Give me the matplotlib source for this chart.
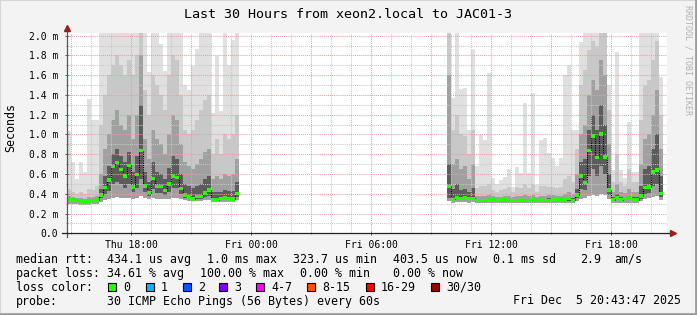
import matplotlib.pyplot as plt
import numpy as np
from matplotlib.patches import Rectangle

plt.rcParams['font.family'] = ['DejaVu Sans Mono']

# --- data (times in hours since Thu 00:00, values in ms) ---
title = "Last 30 Hours from xeon2.local to JAC01-3"
bin_hours = 0.2  # 12 minute steps
x_start, x_end = 14.8, 44.8

seg1_start = 14.8
seg1_median = [0.337, 0.337, 0.335, 0.325, 0.325, 0.328, 0.335, 0.337,
               0.388, 0.466, 0.540, 0.674, 0.715, 0.648, 0.580, 0.688,
               0.469, 0.597, 0.836, 0.479, 0.411, 0.557, 0.472, 0.475,
               0.431, 0.499, 0.580, 0.567, 0.451, 0.388, 0.367, 0.347,
               0.374, 0.370, 0.408, 0.438, 0.337, 0.340, 0.350, 0.357,
               0.347, 0.347, 0.405]
seg1_lo = [0.30, 0.30, 0.30, 0.29, 0.29, 0.29, 0.30, 0.30,
           0.32, 0.34, 0.35, 0.36, 0.37, 0.36, 0.36, 0.36,
           0.35, 0.36, 0.38, 0.36, 0.35, 0.36, 0.35, 0.35,
           0.35, 0.35, 0.36, 0.36, 0.35, 0.34, 0.33, 0.33,
           0.33, 0.33, 0.34, 0.34, 0.32, 0.32, 0.32, 0.32,
           0.32, 0.32, 0.34]
seg1_p25 = [0.32, 0.32, 0.32, 0.31, 0.31, 0.315, 0.32, 0.32,
            0.36, 0.40, 0.43, 0.50, 0.52, 0.50, 0.46, 0.50,
            0.42, 0.46, 0.55, 0.42, 0.38, 0.45, 0.41, 0.41,
            0.39, 0.42, 0.46, 0.46, 0.40, 0.36, 0.35, 0.335,
            0.35, 0.35, 0.37, 0.38, 0.325, 0.33, 0.335, 0.34,
            0.335, 0.335, 0.37]
seg1_p60 = [0.35, 0.35, 0.345, 0.34, 0.34, 0.345, 0.35, 0.35,
            0.45, 0.58, 0.68, 0.80, 0.85, 0.78, 0.72, 0.82,
            0.62, 0.78, 1.30, 0.62, 0.52, 0.72, 0.62, 0.60,
            0.55, 0.66, 0.78, 0.75, 0.60, 0.50, 0.48, 0.46,
            0.48, 0.50, 0.55, 0.58, 0.42, 0.42, 0.42, 0.44,
            0.43, 0.43, 0.52]
seg1_p75 = [0.38, 0.37, 0.36, 0.36, 0.35, 0.37, 0.37, 0.38,
            0.60, 0.85, 1.00, 1.15, 1.25, 1.10, 1.05, 1.20,
            0.95, 1.20, 1.80, 0.95, 0.75, 1.05, 0.95, 0.90,
            0.80, 1.00, 1.20, 1.15, 0.90, 0.72, 0.68, 0.65,
            0.70, 0.75, 0.82, 0.85, 0.55, 0.58, 0.55, 0.60,
            0.58, 0.60, 0.75]
seg1_p90 = [0.45, 0.42, 0.40, 0.42, 0.40, 0.45, 0.44, 0.48,
            1.10, 1.40, 1.60, 1.70, 1.80, 1.70, 1.60, 1.75,
            1.60, 1.80, 2.10, 1.45, 1.20, 1.60, 1.50, 1.40,
            1.25, 1.60, 1.80, 1.75, 1.40, 1.05, 1.00, 1.05,
            1.15, 1.25, 1.35, 1.40, 0.80, 0.95, 0.80, 1.00,
            0.95, 1.00, 1.20]
seg1_hi = [1.04, 0.72, 0.55, 0.72, 0.62, 1.36, 1.15, 1.15,
           2.10, 2.10, 2.10, 2.10, 2.10, 2.10, 2.10, 2.10,
           2.10, 2.10, 2.10, 2.10, 1.63, 2.10, 2.10, 1.92,
           1.64, 2.10, 2.10, 2.10, 2.10, 1.50, 1.45, 1.69,
           1.86, 2.10, 2.10, 2.10, 1.22, 1.79, 1.24, 2.10,
           1.70, 1.96, 2.10]

seg2_start = 33.8
seg2_median = [0.475, 0.344, 0.364, 0.355, 0.360, 0.350, 0.355,
               0.335, 0.333, 0.335, 0.338, 0.340, 0.333, 0.336, 0.337, 0.333, 0.335,
               0.334, 0.336, 0.333, 0.335, 0.339, 0.334, 0.340, 0.335, 0.332,
               0.344, 0.340, 0.337, 0.340, 0.350, 0.335,
               0.388, 0.580, 0.516, 0.840, 0.985, 0.770, 1.005, 0.772, 0.438,
               0.337, 0.364, 0.337, 0.350, 0.357, 0.344, 0.340,
               0.377, 0.461, 0.468, 0.620, 0.640, 0.405]
seg2_lo = [0.33, 0.31, 0.32, 0.32, 0.32, 0.31, 0.32,
           0.31, 0.31, 0.31, 0.31, 0.31, 0.31, 0.31, 0.31, 0.31, 0.31,
           0.31, 0.31, 0.31, 0.31, 0.31, 0.31, 0.31, 0.31, 0.31,
           0.31, 0.31, 0.31, 0.31, 0.31, 0.31,
           0.33, 0.35, 0.36, 0.38, 0.39, 0.38, 0.40, 0.39, 0.35,
           0.31, 0.31, 0.31, 0.31, 0.31, 0.31, 0.31,
           0.33, 0.35, 0.36, 0.37, 0.38, 0.34]
seg2_p25 = [0.36, 0.33, 0.345, 0.34, 0.345, 0.335, 0.34,
            0.325, 0.325, 0.325, 0.325, 0.325, 0.325, 0.325, 0.325, 0.325, 0.325,
            0.325, 0.325, 0.325, 0.325, 0.325, 0.325, 0.325, 0.325, 0.325,
            0.33, 0.33, 0.33, 0.33, 0.33, 0.325,
            0.36, 0.45, 0.44, 0.58, 0.65, 0.58, 0.68, 0.60, 0.39,
            0.325, 0.345, 0.325, 0.335, 0.34, 0.33, 0.33,
            0.35, 0.40, 0.41, 0.48, 0.50, 0.37]
seg2_p60 = [0.70, 0.45, 0.50, 0.44, 0.45, 0.42, 0.46,
            0.35, 0.35, 0.35, 0.35, 0.35, 0.35, 0.35, 0.35, 0.35, 0.35,
            0.35, 0.35, 0.35, 0.35, 0.35, 0.35, 0.35, 0.35, 0.36,
            0.36, 0.35, 0.35, 0.36, 0.37, 0.36,
            0.45, 0.72, 0.75, 1.05, 1.20, 1.05, 1.30, 1.10, 0.60,
            0.37, 0.40, 0.37, 0.37, 0.38, 0.37, 0.37,
            0.48, 0.65, 0.68, 0.85, 1.00, 0.58]
seg2_p75 = [1.60, 0.70, 0.75, 0.65, 0.68, 0.55, 0.70,
            0.38, 0.38, 0.38, 0.39, 0.38, 0.37, 0.37, 0.38, 0.38, 0.37,
            0.38, 0.38, 0.39, 0.38, 0.39, 0.37, 0.38, 0.38, 0.39,
            0.39, 0.38, 0.38, 0.40, 0.42, 0.40,
            0.60, 1.00, 1.10, 1.40, 1.55, 1.45, 1.75, 1.60, 0.90,
            0.42, 0.50, 0.42, 0.41, 0.45, 0.42, 0.42,
            0.70, 0.95, 1.00, 1.20, 1.45, 0.85]
seg2_p90 = [2.10, 1.05, 1.20, 1.00, 0.98, 0.80, 1.05,
            0.46, 0.48, 0.48, 0.50, 0.44, 0.42, 0.44, 0.45, 0.47, 0.42,
            0.47, 0.46, 0.50, 0.46, 0.50, 0.42, 0.48, 0.48, 0.47,
            0.47, 0.46, 0.47, 0.55, 0.58, 0.52,
            0.85, 1.50, 1.65, 1.85, 1.95, 1.90, 2.10, 2.10, 1.25,
            0.52, 0.80, 0.52, 0.48, 0.65, 0.52, 0.52,
            1.15, 1.50, 1.55, 1.75, 1.95, 1.20]
seg2_hi = [2.10, 1.37, 2.10, 1.46, 1.47, 1.045, 1.86,
           0.68, 0.995, 0.94, 1.62, 0.56, 0.50, 0.54, 0.57, 0.65, 0.47,
           0.67, 0.61, 1.32, 0.61, 1.42, 0.49, 0.94, 0.96, 0.81,
           0.76, 0.68, 0.76, 1.60, 1.70, 1.045,
           1.05, 1.94, 2.10, 2.10, 2.10, 2.10, 2.10, 2.10, 1.50,
           0.64, 1.83, 0.64, 0.56, 1.13, 0.62, 0.62,
           2.10, 2.10, 2.10, 2.10, 2.10, 1.58]

xtick_hours = [18, 24, 30, 36, 42]
xtick_labels = ["Thu 18:00", "Fri 00:00", "Fri 06:00", "Fri 12:00", "Fri 18:00"]
ytick_values = [0.0, 0.2, 0.4, 0.6, 0.8, 1.0, 1.2, 1.4, 1.6, 1.8, 2.0]
ytick_labels = ["0.0", "0.2 m", "0.4 m", "0.6 m", "0.8 m", "1.0 m",
                "1.2 m", "1.4 m", "1.6 m", "1.8 m", "2.0 m"]

legend_rows = [
    [("median rtt:", 16), ("434.1 us avg", 107), ("1.0 ms max", 207), ("323.7 us min", 293),
     ("403.5 us now", 393), ("0.1 ms sd", 493), ("2.9", 580), ("am/s", 614)],
    [("packet loss:", 16), ("34.61 % avg", 107), ("100.00 % max", 200), ("0.00 % min", 300),
     ("0.00 % now", 393)],
    [("loss color:", 16)],
    [("probe:", 16), ("30 ICMP Echo Pings (56 Bytes) every 60s", 107),
     ("Fri Dec  5 20:43:47 2025", 513)],
]
loss_labels = ["0", "1", "2", "3", "4-7", "8-15", "16-29", "30/30"]
loss_colors = ["#26ff00", "#00b8ff", "#0059ff", "#7e00ff", "#ff00ff", "#ff5500", "#ff0000", "#a10000"]
loss_box_x = [108, 146, 183, 219, 256, 307, 366, 431]

# --- figure ---
W, H = 697, 315
fig = plt.figure(figsize=(W / 100, H / 100), dpi=100, facecolor="#f3f3f3")
ax_l, ax_r, ax_t, ax_b = 67, 667, 32.7, 233.3
ax = fig.add_axes([ax_l / W, 1 - ax_b / H, (ax_r - ax_l) / W, (ax_b - ax_t) / H])
ax.set_facecolor("white")
ax.set_xlim(x_start, x_end)
ax.set_ylim(0, 2.03)
for s in ax.spines.values():
    s.set_visible(False)

green_h = 0.034  # about 3 px in ms


def draw_segment(start, median, lo, p25, p60, p75, p90, hi):
    n = len(median)
    edges = start + np.arange(n + 1) * bin_hours
    ext = lambda a: np.append(a, a[-1])
    bands = [(lo, hi, "#e0e0e0"), (lo, p90, "#c8c8c8"),
             (lo, p75, "#a0a0a0"), (p25, p60, "#5c5c5c")]
    for bot, top, col in bands:
        ax.fill_between(edges, ext(bot), ext(top), step="post", color=col, lw=0, zorder=1)
    med = np.asarray(median)
    # dark connectors between neighbouring medians
    ax.vlines(edges[1:-1], med[:-1], med[1:], color="black", lw=0.8,
              linestyles=[(0, (1, 1))], zorder=3)
    ax.fill_between(edges, ext(med) - green_h / 2, ext(med) + green_h / 2, step="post",
                    color="#26ff00", lw=0, zorder=4)


draw_segment(seg1_start, seg1_median, seg1_lo, seg1_p25, seg1_p60, seg1_p75, seg1_p90, seg1_hi)
draw_segment(seg2_start, seg2_median, seg2_lo, seg2_p25, seg2_p60, seg2_p75, seg2_p90, seg2_hi)

# grid (dotted, drawn over the smoke like rrdtool)
dots = (0, (1, 1))
for h in range(15, 45):
    major = h % 3 == 0
    ax.axvline(h, color="#e6a0a0" if major else "#c8c8c8", lw=0.75, ls=dots, zorder=2)
for k in range(1, 21):
    major = k % 2 == 0
    ax.axhline(k / 10, color="#e6a0a0" if major else "#c8c8c8", lw=0.75, ls=dots, zorder=2)

ax.set_xticks(xtick_hours, xtick_labels)
ax.set_xticks(range(15, 45, 3), minor=True)
ax.set_yticks(ytick_values, ytick_labels)
ax.set_yticks(np.arange(0.1, 2.01, 0.2), minor=True)
ax.tick_params(axis="both", which="major", labelsize=7, length=3, width=0.7,
               color="#555555", direction="inout")
ax.tick_params(axis="both", which="minor", length=2, width=0.7, color="#888888",
               direction="inout")
ax.tick_params(axis="x", pad=3)
ax.tick_params(axis="y", pad=5)

# axis lines with arrows
hpx, wpx = ax_b - ax_t, ax_r - ax_l
ax.plot([0, 0], [-4 / hpx, 1 + 4 / hpx], transform=ax.transAxes, color="#555555",
        lw=0.9, clip_on=False, zorder=5)
ax.plot([-5 / wpx, 1 + 4 / wpx], [0, 0], transform=ax.transAxes, color="#222222",
        lw=0.9, clip_on=False, zorder=5)
ax.plot([0], [1 + 5 / hpx], marker="^", ms=4, color="#9b1c1c", transform=ax.transAxes,
        clip_on=False, zorder=6)
ax.plot([1 + 6 / wpx], [0], marker=">", ms=4, color="#9b1c1c", transform=ax.transAxes,
        clip_on=False, zorder=6)

# texts
fig.text(348 / W, 1 - 14 / H, title, ha="center", va="center", fontsize=9.6)
fig.text(11 / W, 1 - 128 / H, "Seconds", rotation=90, ha="center", va="center", fontsize=8.4)
fig.text(688 / W, 1 - 60 / H, "RRDTOOL / TOBI OETIKER", rotation=270, ha="center",
         va="center", fontsize=6, color="#b0b0b0")

row_y = [259.3, 273.3, 287.3, 301.0]
for row, y in zip(legend_rows, row_y):
    for txt, x in row:
        fig.text(x / W, 1 - y / H, txt, ha="left", va="center", fontsize=8.4)
for lab, col, x in zip(loss_labels, loss_colors, loss_box_x):
    fig.patches.append(Rectangle((x / W, 1 - 291 / H), 8 / W, 8 / H, transform=fig.transFigure,
                                 facecolor=col, edgecolor="black", lw=0.8))
    fig.text((x + 15) / W, 1 - 287.3 / H, lab, ha="left", va="center", fontsize=8.4)

# 3d-ish frame
fig.patches.append(Rectangle((0, 0), 1, 1, transform=fig.transFigure, fill=False,
                             edgecolor="#d6d6d6", lw=1.5))
fig.add_artist(plt.Line2D([0, 1], [1.5 / H, 1.5 / H], transform=fig.transFigure,
                          color="#9c9c9c", lw=2))
fig.add_artist(plt.Line2D([1 - 1.5 / W, 1 - 1.5 / W], [0, 1], transform=fig.transFigure,
                          color="#9c9c9c", lw=2))

fig.savefig("out.png", dpi=100, facecolor=fig.get_facecolor())
